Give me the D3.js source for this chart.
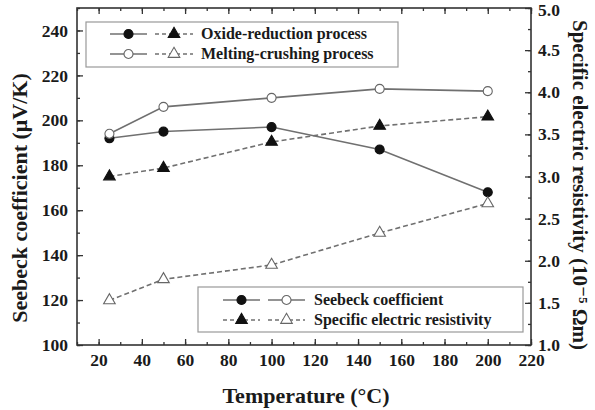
<!DOCTYPE html>
<html>
<head>
<meta charset="utf-8">
<script src="https://cdn.jsdelivr.net/npm/d3@7"></script>
<style>
  body { margin: 0; background: #fff; }
  text { font-family: "Liberation Serif", "DejaVu Serif", serif; font-weight: bold; fill: #1a1a1a; }
</style>
</head>
<body>
<svg id="chart" width="595" height="410"></svg>
<script>
'use strict';

// temperatures (°C)
var temps = [25, 50, 100, 150, 200];

// Seebeck coefficient (uV/K)
var seebeckOxide = [192, 195, 197, 187, 168];
var seebeckMelting = [194, 206, 210, 214, 213];

// specific electric resistivity (10^-5 Ohm m)
var resistOxide = [3.0, 3.1, 3.41, 3.6, 3.71];
var resistMelting = [1.53, 1.78, 1.95, 2.33, 2.68];

// tick labels
var xTicks = [20, 40, 60, 80, 100, 120, 140, 160, 180, 200, 220];
var yLeftTicks = [100, 120, 140, 160, 180, 200, 220, 240];
var yRightTicks = [1.0, 1.5, 2.0, 2.5, 3.0, 3.5, 4.0, 4.5, 5.0];

var plot = {left: 77, right: 531, top: 8, bottom: 345};
var lineColor = '#707070';
var axisColor = '#333';

var svg = d3.select('#chart');

var x = d3.scaleLinear().domain([10, 220]).range([plot.left, plot.right]);
var yL = d3.scaleLinear().domain([100, 250]).range([plot.bottom, plot.top]);
var yR = d3.scaleLinear().domain([1, 5]).range([plot.bottom, plot.top]);

// minor ticks
var xMinor = d3.range(10, 221, 10);
var yLMinor = d3.range(100, 251, 10);
var yRMinor = d3.range(1, 5.01, 0.25);

function addAxis(axis, transform) {
    var g = svg.append('g').attr('transform', transform).call(axis);
    g.select('.domain').remove();
    g.selectAll('line').attr('stroke', axisColor).attr('stroke-width', 1.3);
    g.selectAll('text').style('font-size', '17.5px').attr('fill', '#1a1a1a');
    return g;
}

// bottom axis (ticks inward)
addAxis(d3.axisBottom(x).tickValues(xMinor).tickSize(-3).tickFormat(''),
    'translate(0,' + plot.bottom + ')');
addAxis(d3.axisBottom(x).tickValues(xTicks).tickSize(-6).tickPadding(9).tickFormat(d3.format('d')),
    'translate(0,' + plot.bottom + ')');
// top axis mirror
addAxis(d3.axisTop(x).tickValues(xMinor).tickSize(-3).tickFormat(''),
    'translate(0,' + plot.top + ')');
addAxis(d3.axisTop(x).tickValues(xTicks).tickSize(-6).tickFormat(''),
    'translate(0,' + plot.top + ')');

// left axis
addAxis(d3.axisLeft(yL).tickValues(yLMinor).tickSize(-3).tickFormat(''),
    'translate(' + plot.left + ',0)');
addAxis(d3.axisLeft(yL).tickValues(yLeftTicks).tickSize(-6).tickPadding(9).tickFormat(d3.format('d')),
    'translate(' + plot.left + ',0)');

// right axis
var rAxis = addAxis(d3.axisRight(yR).tickValues(yRMinor).tickSize(-3).tickFormat(''),
    'translate(' + plot.right + ',0)');
rAxis = addAxis(d3.axisRight(yR).tickValues(yRightTicks).tickSize(-6).tickPadding(7).tickFormat(d3.format('.1f')),
    'translate(' + plot.right + ',0)');
// keep the top label inside the page
rAxis.selectAll('text').filter(function(d) { return d === 5; }).attr('dy', '0.45em');

// frame
svg.append('rect')
    .attr('x', plot.left).attr('y', plot.top)
    .attr('width', plot.right - plot.left).attr('height', plot.bottom - plot.top)
    .attr('fill', 'none').attr('stroke', axisColor).attr('stroke-width', 1.6);

// axis titles
svg.append('text')
    .attr('x', 306).attr('y', 403)
    .attr('text-anchor', 'middle').style('font-size', '22px')
    .text('Temperature (°C)');

svg.append('text')
    .attr('transform', 'translate(27,198) rotate(-90)')
    .attr('text-anchor', 'middle').style('font-size', '22px')
    .text('Seebeck coefficient (μV/K)');

svg.append('text')
    .attr('transform', 'translate(573,185) rotate(90)')
    .attr('text-anchor', 'middle').style('font-size', '21px')
    .text('Specific electric resistivity (10⁻⁵ Ωm)');

// series
var series = [
    {vals: seebeckOxide, y: yL, dash: null, shape: 'circle', fill: '#111'},
    {vals: seebeckMelting, y: yL, dash: null, shape: 'circle', fill: '#fff'},
    {vals: resistOxide, y: yR, dash: '5,3', shape: 'triangle', fill: '#111'},
    {vals: resistMelting, y: yR, dash: '5,3', shape: 'triangle', fill: '#fff'}
];

var symCircle = d3.symbol().type(d3.symbolCircle).size(64);
var symTriangle = d3.symbol().type(d3.symbolTriangle).size(58);

function drawMarker(g, shape, fill, px, py) {
    g.append('path')
        .attr('d', shape === 'circle' ? symCircle() : symTriangle())
        .attr('transform', 'translate(' + px + ',' + py + ')')
        .attr('fill', fill)
        .attr('stroke', fill === '#fff' ? '#666' : '#111')
        .attr('stroke-width', 1.1);
}

series.forEach(function(s) {
    var line = d3.line()
        .x(function(d, i) { return x(temps[i]); })
        .y(function(d) { return s.y(d); });
    svg.append('path')
        .datum(s.vals)
        .attr('d', line)
        .attr('fill', 'none')
        .attr('stroke', lineColor)
        .attr('stroke-width', 1.6)
        .attr('stroke-dasharray', s.dash);
    var g = svg.append('g');
    s.vals.forEach(function(v, i) {
        drawMarker(g, s.shape, s.fill, x(temps[i]), s.y(v));
    });
});

// legend sample: short line with a marker in the middle
function legendSample(g, x0, x1, yy, dash, shape, fill) {
    g.append('line')
        .attr('x1', x0).attr('x2', x1).attr('y1', yy).attr('y2', yy)
        .attr('stroke', lineColor).attr('stroke-width', 1.4)
        .attr('stroke-dasharray', dash);
    drawMarker(g, shape, fill, (x0 + x1) / 2, yy);
}

// top legend: process
var leg1 = svg.append('g');
leg1.append('rect')
    .attr('x', 86).attr('y', 22).attr('width', 312).attr('height', 45)
    .attr('fill', '#fff').attr('stroke', '#999').attr('stroke-width', 1.2);
var procNames = ['Oxide-reduction process', 'Melting-crushing process'];
var procFill = ['#111', '#fff'];
procNames.forEach(function(name, i) {
    var yy = 34 + i * 20;
    legendSample(leg1, 110, 147, yy, null, 'circle', procFill[i]);
    legendSample(leg1, 155, 193, yy, '4,3', 'triangle', procFill[i]);
    leg1.append('text').attr('x', 201).attr('y', yy + 5)
        .style('font-size', '16px').text(name);
});

// bottom legend: quantity
var leg2 = svg.append('g');
leg2.append('rect')
    .attr('x', 198).attr('y', 287).attr('width', 325).attr('height', 45)
    .attr('fill', '#fff').attr('stroke', '#999').attr('stroke-width', 1.2);
var qtyNames = ['Seebeck coefficient', 'Specific electric resistivity'];
var qtyShape = ['circle', 'triangle'];
var qtyDash = [null, '4,3'];
qtyNames.forEach(function(name, i) {
    var yy = 300 + i * 20;
    legendSample(leg2, 223, 260, yy, qtyDash[i], qtyShape[i], '#111');
    legendSample(leg2, 268, 305, yy, qtyDash[i], qtyShape[i], '#fff');
    leg2.append('text').attr('x', 314).attr('y', yy + 5)
        .style('font-size', '16px').text(name);
});
</script>
</body>
</html>
